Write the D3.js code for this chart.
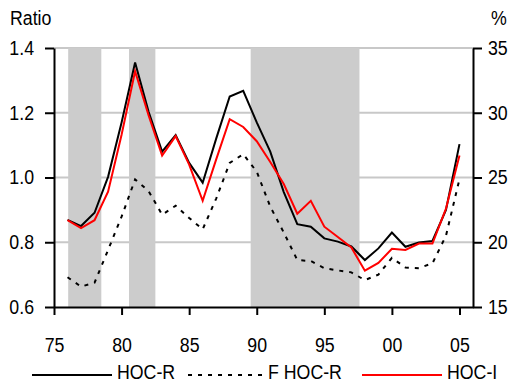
<!DOCTYPE html>
<html>
<head>
<meta charset="utf-8">
<script src="https://cdn.jsdelivr.net/npm/d3@7"></script>
<style>
  html, body { margin: 0; padding: 0; background: #fff; }
  svg { display: block; }
  text { font-family: "Liberation Sans", Arial, sans-serif; font-size: 19.5px; fill: #000; }
</style>
</head>
<body>
<svg id="chart" width="510" height="383"></svg>
<script>
// Annual observations
const years = [1976, 1977, 1978, 1979, 1980, 1981, 1982, 1983, 1984, 1985,
               1986, 1987, 1988, 1989, 1990, 1991, 1992, 1993, 1994, 1995,
               1996, 1997, 1998, 1999, 2000, 2001, 2002, 2003, 2004, 2005];

// HOC-R, ratio (left axis)
const hocR = [0.869, 0.850, 0.891, 1.002, 1.170, 1.355, 1.203, 1.080, 1.131, 1.045,
              0.984, 1.120, 1.250, 1.268, 1.170, 1.080, 0.955, 0.856, 0.848, 0.812,
              0.802, 0.787, 0.745, 0.781, 0.830, 0.786, 0.799, 0.804, 0.900, 1.103];

// F HOC-R, ratio (left axis)
const fHocR = [0.692, 0.663, 0.675, 0.776, 0.879, 0.994, 0.958, 0.885, 0.913, 0.875,
               0.840, 0.935, 1.045, 1.072, 1.018, 0.910, 0.830, 0.745, 0.742, 0.720,
               0.713, 0.707, 0.683, 0.700, 0.752, 0.722, 0.720, 0.735, 0.820, 0.995];

// HOC-I, percent (right axis)
const hocI = [21.7, 21.1, 21.7, 23.9, 28.3, 33.2, 29.8, 26.7, 28.2, 26.0,
              23.2, 26.4, 29.5, 28.9, 27.8, 26.2, 24.5, 22.2, 23.2, 21.2,
              20.4, 19.6, 17.8, 18.4, 19.5, 19.4, 19.9, 19.9, 22.6, 26.7];

// Shaded periods
const shadeStart = [1976.05, 1980.55, 1989.55];
const shadeEnd   = [1978.5, 1982.5, 1997.6];

// Axis ticks
const leftTicks = [0.6, 0.8, 1.0, 1.2, 1.4];
const rightTicks = [15, 20, 25, 30, 35];
const xTicks = [1975, 1980, 1985, 1990, 1995, 2000, 2005];
const gridTicks = [0.8, 1.0, 1.2, 1.4];

const svg = d3.select("#chart");
const L = 54, R = 473, T = 48, B = 307;

const x = d3.scaleLinear().domain([1975, 2006]).range([L, R]);
const yL = d3.scaleLinear().domain([0.6, 1.4]).range([B, T]);
const yR = d3.scaleLinear().domain([15, 35]).range([B, T]);

// horizontal gridlines
svg.append("g").selectAll("line").data(gridTicks).join("line")
  .attr("x1", L).attr("x2", R)
  .attr("y1", d => yL(d)).attr("y2", d => yL(d))
  .attr("stroke", "#c8c8c8").attr("stroke-width", 2);

// shaded periods
svg.append("g").selectAll("rect").data(shadeStart.map((s, i) => [s, shadeEnd[i]])).join("rect")
  .attr("x", d => x(d[0])).attr("width", d => x(d[1]) - x(d[0]))
  .attr("y", T).attr("height", B - T)
  .attr("fill", "#cccccc");

// series lines
const lineL = d3.line().x((d, i) => x(years[i])).y(d => yL(d));
const lineR = d3.line().x((d, i) => x(years[i])).y(d => yR(d));

svg.append("path").datum(fHocR).attr("d", lineL)
  .attr("fill", "none").attr("stroke", "#000").attr("stroke-width", 2)
  .attr("stroke-dasharray", "4,6");
svg.append("path").datum(hocR).attr("d", lineL)
  .attr("fill", "none").attr("stroke", "#000").attr("stroke-width", 2);
svg.append("path").datum(hocI).attr("d", lineR)
  .attr("fill", "none").attr("stroke", "#ff0000").attr("stroke-width", 2);

// axes
function styleAxis(g) {
  g.selectAll("path, line").attr("stroke", "#000").attr("stroke-width", 2);
  g.selectAll("text").attr("font-size", null).attr("font-family", null).attr("fill", "#000");
}

svg.append("g").attr("transform", `translate(${L},0)`)
  .call(d3.axisLeft(yL).tickValues(leftTicks).tickFormat(d3.format(".1f"))
        .tickSize(9).tickSizeOuter(0).tickPadding(11))
  .call(styleAxis);

svg.append("g").attr("transform", `translate(${R},0)`)
  .call(d3.axisRight(yR).tickValues(rightTicks).tickFormat(d3.format("d"))
        .tickSize(9).tickSizeOuter(0).tickPadding(6))
  .call(styleAxis);

svg.append("g").attr("transform", `translate(0,${B})`)
  .call(d3.axisBottom(x).tickValues(xTicks)
        .tickFormat(d => String(d % 100).padStart(2, "0"))
        .tickSize(8).tickSizeOuter(0).tickPadding(23))
  .call(styleAxis);

// axis titles
svg.append("text").attr("x", 10).attr("y", 25).text("Ratio");
svg.append("text").attr("x", 491).attr("y", 25).text("%");

// legend
const legendItems = [
  { label: "HOC-R", x1: 32, x2: 112, color: "#000", dash: null },
  { label: "F HOC-R", x1: 188, x2: 263, color: "#000", dash: "4,6" },
  { label: "HOC-I", x1: 362, x2: 442, color: "#ff0000", dash: null }
];
const lg = svg.append("g");
legendItems.forEach(it => {
  lg.append("line").attr("x1", it.x1).attr("x2", it.x2).attr("y1", 375).attr("y2", 375)
    .attr("stroke", it.color).attr("stroke-width", 2)
    .attr("stroke-dasharray", it.dash);
  lg.append("text").attr("x", it.x2 + 5).attr("y", 379).text(it.label);
});

// slightly condensed lettering
svg.selectAll("text").each(function () {
  const w = this.getComputedTextLength();
  d3.select(this).attr("textLength", (w * 0.91).toFixed(2))
    .attr("lengthAdjust", "spacingAndGlyphs");
});
</script>
</body>
</html>
